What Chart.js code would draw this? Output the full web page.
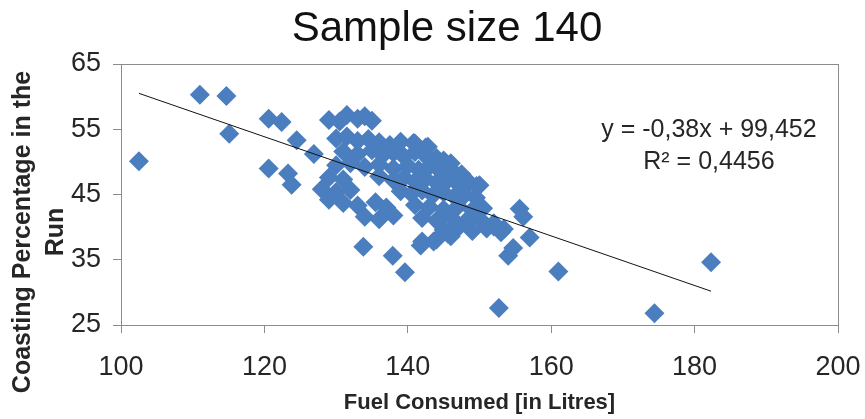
<!DOCTYPE html>
<html>
<head>
<meta charset="utf-8">
<script src="https://cdn.jsdelivr.net/npm/chart.js@4.4.1/dist/chart.umd.min.js"></script>
<style>
  html, body { margin: 0; padding: 0; background: #fff; }
  #wrap { width: 865px; height: 419px; }
</style>
</head>
<body>
<div id="wrap"><canvas id="fuelChart" width="865" height="419"></canvas></div>
<script>
// Fuel consumed per run (litres)
const fuel = [
    102.5, 111.0, 114.7, 115.1, 120.6, 122.4, 120.6, 123.3, 123.8, 124.5,
    126.9, 133.8, 137.9, 139.6, 141.8, 143.6, 145.6, 182.3, 174.4, 161.0,
    152.7, 154.0, 154.7, 157.0, 155.6, 156.1, 149.6, 152.0, 153.4, 147.4,
    146.0, 142.8, 140.8,
    129.0, 130.5, 131.5, 133.0, 134.0, 135.0,
    130.0, 131.5, 133.0, 134.5, 136.0, 137.5, 139.0, 141.0, 142.5,
    131.0, 133.0, 135.0, 136.5, 138.0, 139.5, 141.0, 142.5, 144.0, 145.0,
    130.0, 132.0, 134.0, 136.0, 138.0, 140.0, 141.5, 143.0, 144.5, 146.0, 147.5,
    129.0, 131.0, 136.0, 138.0, 139.5, 141.0, 142.5, 144.0, 145.5, 147.0, 148.5, 150.0,
    128.0, 130.0, 132.0, 139.0, 140.5, 142.0, 143.5, 145.0, 146.5, 148.0, 149.5,
    129.0, 131.0, 133.0, 135.5, 137.0, 141.0, 143.0, 145.0, 147.0, 149.0, 150.5,
    134.0, 136.0, 138.0, 142.0, 144.0, 146.0, 148.0, 150.0, 152.0,
    145.0, 147.0, 149.0, 151.0, 153.0,
    142.0, 144.0, 146.0
];

// Share of the run spent coasting (%)
const coasting = [
    50.1, 60.3, 60.1, 54.3, 56.6, 56.1, 49.0, 48.2, 46.5, 53.3,
    51.2, 37.0, 35.6, 33.1, 37.2, 37.8, 39.0, 34.6, 26.8, 33.2,
    27.6, 35.6, 36.8, 38.4, 42.8, 41.6, 46.3, 40.1, 39.7, 47.7,
    49.8, 52.3, 52.9,
    56.4, 56.2, 57.2, 56.6, 57.0, 56.3,
    53.6, 53.9, 53.2, 53.5, 53.0, 52.6, 53.1, 52.8, 52.2,
    51.6, 51.2, 51.8, 51.0, 51.4, 50.8, 51.5, 50.9, 50.6, 50.2,
    49.5, 49.8, 49.2, 49.6, 49.0, 49.4, 48.8, 49.3, 48.6, 48.9, 48.1,
    47.6, 47.3, 47.8, 47.2, 47.6, 47.0, 47.4, 46.8, 47.1, 46.6, 46.9, 46.4,
    45.8, 45.4, 45.7, 45.5, 45.1, 45.6, 44.9, 45.3, 44.7, 45.0, 44.5,
    44.2, 43.7, 43.3, 43.8, 43.0, 43.4, 43.1, 42.7, 43.2, 42.6, 42.9,
    41.6, 41.2, 41.8, 41.4, 41.0, 41.5, 40.8, 41.3, 40.6,
    39.6, 39.9, 39.4, 39.8, 39.2,
    37.8, 38.1, 38.6
];

// Excel-style tick values
const xTicks = [100, 120, 140, 160, 180, 200];
const yTicks = [25, 35, 45, 55, 65];

// Linear trend as printed on the chart
const slope = -0.38;
const intercept = 99.452;
const rSquared = 0.4456;
const trendX = [102.5, 182.3];

const points = fuel.map((x, i) => ({ x: x, y: coasting[i] }));
const trendPoints = trendX.map(x => ({ x: x, y: slope * x + intercept }));

const fmt = v => String(v).replace('.', ',');
const equationLines = [
    'y = ' + fmt(slope) + 'x + ' + fmt(intercept),
    'R\u00B2 = ' + fmt(rSquared)
];
const yTitleLines = ['Coasting Percentage in the', 'Run'];

const FONT = '"Liberation Sans", Arial, sans-serif';
const AXIS_GREY = '#8c8c8c';
const TEXT = '#262626';

// Box around the plot area, the y axis title and the trendline equation
const plotExtras = {
    id: 'plotExtras',
    afterDatasetsDraw(chart) {
        const { ctx, chartArea } = chart;
        ctx.save();
        ctx.strokeStyle = AXIS_GREY;
        ctx.lineWidth = 1;
        ctx.strokeRect(chartArea.left + 0.5, chartArea.top + 0.5,
            chartArea.right - chartArea.left, chartArea.bottom - chartArea.top);

        ctx.fillStyle = TEXT;
        ctx.font = '25px ' + FONT;
        ctx.textAlign = 'center';
        ctx.textBaseline = 'middle';
        const cx = chartArea.left + (chartArea.right - chartArea.left) * 0.82;
        ctx.fillText(equationLines[0], cx, chartArea.top + 66);
        ctx.fillText(equationLines[1], cx, chartArea.top + 98);

        // rotated two-line axis title on the left
        ctx.font = 'bold 25px ' + FONT;
        ctx.translate(23, 232);
        ctx.rotate(-Math.PI / 2);
        ctx.fillText(yTitleLines[0], 0, 0);
        ctx.fillText(yTitleLines[1], 0, 33);
        ctx.restore();
    }
};

new Chart(document.getElementById('fuelChart').getContext('2d'), {
    type: 'scatter',
    data: {
        datasets: [
            {
                label: 'Trend',
                type: 'line',
                data: trendPoints,
                borderColor: '#111',
                borderWidth: 1,
                pointRadius: 0,
                fill: false,
                order: 0
            },
            {
                label: 'Runs',
                data: points,
                pointStyle: 'rectRot',
                pointRadius: 10,
                backgroundColor: '#4a7ebf',
                borderColor: '#4a7ebf',
                borderWidth: 0,
                order: 1
            }
        ]
    },
    options: {
        responsive: false,
        animation: false,
        // left padding leaves room for the hand-drawn y title
        layout: { padding: { left: 56, right: 27, bottom: 0, top: 0 } },
        plugins: {
            legend: { display: false },
            tooltip: { enabled: false },
            title: {
                display: true,
                text: 'Sample size 140',
                color: '#111',
                font: { family: FONT, size: 42, weight: 'normal', lineHeight: 1.2 },
                padding: { top: 4, bottom: 9.6 }
            }
        },
        scales: {
            x: {
                type: 'linear',
                min: 100,
                max: 200,
                afterBuildTicks: s => { s.ticks = xTicks.map(v => ({ value: v })); },
                afterFit: s => {
                    s.height = 94;
                    // let the layout padding alone decide the edges
                    s.paddingLeft = 0;
                    s.paddingRight = 0;
                },
                grid: { drawOnChartArea: false, color: AXIS_GREY, tickLength: 8 },
                border: { color: AXIS_GREY },
                ticks: { color: TEXT, font: { family: FONT, size: 27 }, padding: 18, maxRotation: 0 },
                title: {
                    display: true,
                    text: 'Fuel Consumed [in Litres]',
                    color: TEXT,
                    font: { family: FONT, size: 22, weight: 'bold', lineHeight: 1.2 },
                    padding: { top: 0, bottom: 3 }
                }
            },
            y: {
                type: 'linear',
                min: 25,
                max: 65,
                afterBuildTicks: s => { s.ticks = yTicks.map(v => ({ value: v })); },
                afterFit: s => { s.width = 65; },
                grid: { drawOnChartArea: false, color: AXIS_GREY, tickLength: 8 },
                border: { color: AXIS_GREY },
                ticks: { color: TEXT, font: { family: FONT, size: 27 }, padding: 12 }
            }
        }
    },
    plugins: [plotExtras]
});
</script>
</body>
</html>
